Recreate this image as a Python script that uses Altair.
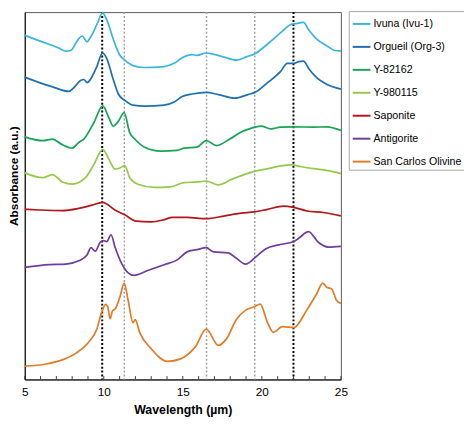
import altair as alt
import pandas as pd

series_names = ["Ivuna (Ivu-1)", "Orgueil (Org-3)", "Y-82162", "Y-980115",
                "Saponite", "Antigorite", "San Carlos Olivine"]
series_colors = ["#38B6E0", "#1F70B0", "#17A455", "#96C94B",
                 "#B3151B", "#6F3D9E", "#E37C28"]

ivuna_x = [5.00, 5.93, 7.18, 7.60, 7.91, 8.32, 8.63, 8.94, 9.15, 9.56, 9.92, 10.19, 10.60, 11.02, 11.33, 11.85, 12.58, 13.82, 14.45, 14.96, 15.59, 15.90, 16.48, 17.04, 17.56, 18.39, 19.01, 19.57, 20.36, 21.19, 21.81, 22.12, 22.64, 22.95, 23.47, 24.10, 24.61, 25.00]
ivuna_y = [356, 350.3, 342.7, 339.7, 340.3, 350.3, 355.3, 349.3, 353.7, 367, 379.3, 372, 352, 335.3, 330.3, 324.7, 322.7, 323.7, 327, 332.7, 336, 335.3, 337.7, 336, 333.7, 330.3, 333.7, 337, 347, 358.7, 367, 368, 369.3, 362, 352, 345.3, 340.3, 339.7]

orgueil_x = [5.00, 5.93, 6.76, 7.80, 8.11, 8.53, 8.74, 8.94, 9.15, 9.56, 9.92, 10.19, 10.60, 10.92, 11.33, 11.85, 12.58, 13.82, 14.45, 14.96, 15.59, 16.48, 17.25, 18.28, 19.12, 19.57, 20.36, 21.19, 21.61, 22.02, 22.33, 22.64, 22.95, 23.37, 24.10, 25.00]
orgueil_y = [312.7, 307, 302.7, 298, 302, 309.3, 310.3, 307, 310.3, 323.7, 337.7, 332, 310.3, 295.3, 288.7, 283.7, 282.7, 283.7, 287, 292.7, 295.3, 297, 294.7, 291, 294.7, 297, 307, 318.7, 327, 327, 328.7, 329.3, 322, 313.7, 305.3, 300.3]

y82162_x = [5.00, 6.14, 6.76, 7.29, 8.01, 8.42, 8.74, 9.36, 9.94, 10.29, 10.60, 10.92, 11.29, 11.64, 11.96, 12.58, 13.61, 14.65, 15.07, 15.90, 16.48, 17.14, 17.97, 18.70, 19.12, 19.94, 20.57, 21.19, 22.02, 23.26, 24.10, 25.00]
y82162_y = [251, 247, 248.7, 243.7, 239.3, 245.3, 248.7, 265.3, 283, 272, 262, 267, 276, 255.3, 248.7, 240.3, 236.3, 237, 239.3, 240.3, 247, 242, 248.7, 256, 258.7, 262, 259.3, 261, 261.3, 261, 261.3, 257.7]

y980115_x = [5.00, 6.14, 6.76, 7.07, 7.38, 8.01, 8.84, 9.36, 9.94, 10.29, 10.71, 11.02, 11.33, 11.64, 12.16, 13.20, 14.23, 15.07, 15.90, 16.48, 17.25, 18.08, 19.53, 20.57, 21.19, 21.92, 22.43, 23.26, 24.10, 25.00]
y980115_y = [213.7, 208.7, 212, 208.7, 204.3, 202, 208.7, 222, 238, 228.7, 217.7, 218.7, 221.3, 208.7, 202, 198.7, 199.3, 203.7, 204.3, 205.3, 201.3, 207, 215.3, 218.7, 221, 222, 220.3, 218, 216.3, 213]

saponite_x = [5.00, 5.93, 7.38, 8.42, 9.25, 9.92, 10.71, 11.33, 12.05, 12.99, 13.82, 14.34, 15.27, 16.48, 17.66, 18.70, 19.53, 20.36, 21.39, 22.02, 22.85, 23.89, 25.00]
saponite_y = [176, 175.3, 174.7, 177, 180.3, 183.3, 175.3, 170.3, 163.7, 163, 165.3, 167.7, 167.7, 166.3, 169.3, 172, 173.3, 176, 179.3, 178, 174.3, 172.7, 169.3]

antigorite_x = [5.00, 6.56, 7.60, 8.42, 8.94, 9.19, 9.46, 9.78, 9.98, 10.19, 10.46, 10.71, 11.12, 11.54, 11.91, 12.78, 13.82, 14.65, 15.27, 15.90, 16.48, 16.94, 17.87, 18.39, 18.97, 19.63, 20.26, 21.08, 22.02, 22.33, 22.95, 23.57, 24.20, 25.00]
antigorite_y = [116, 118.7, 119.3, 122.7, 128.7, 136.3, 132.7, 142, 143.7, 142.7, 149.7, 137, 120.3, 110.3, 107.7, 112.7, 118.7, 123.7, 132, 134.3, 136.3, 132, 131, 125.3, 119.3, 127, 135.3, 139.3, 142.7, 146, 153, 142, 137, 137.7]

olivine_x = [5.00, 6.35, 7.38, 8.22, 9.05, 9.56, 9.88, 10.12, 10.25, 10.40, 10.56, 10.71, 11.02, 11.29, 11.54, 11.85, 11.99, 12.27, 12.99, 14.03, 14.86, 15.27, 15.79, 16.48, 17.25, 17.76, 18.39, 19.01, 19.53, 19.90, 20.36, 20.73, 21.29, 22.02, 22.85, 23.47, 23.85, 24.10, 24.41, 24.72, 25.00]
olivine_y = [13.7, 16, 20.3, 27, 38.7, 52, 70.3, 77.7, 75.3, 62.7, 71.3, 72.7, 85.3, 99.7, 82, 58.7, 62, 48.7, 32, 18.7, 21.3, 25.3, 33.7, 52, 35.3, 42, 62, 72, 75.3, 78, 58.7, 48.7, 54.7, 53.7, 72, 88.7, 99.7, 95.3, 93.7, 82, 78.7]

ref_black = [9.9, 22.0]
ref_gray = [11.3, 16.5, 19.55]
tick_values = list(range(5, 26))
label_values = [5, 10, 15, 20, 25]

xs = [ivuna_x, orgueil_x, y82162_x, y980115_x, saponite_x, antigorite_x, olivine_x]
ys = [ivuna_y, orgueil_y, y82162_y, y980115_y, saponite_y, antigorite_y, olivine_y]
frames = []
for name, xv, yv in zip(series_names, xs, ys):
    frames.append(pd.DataFrame({"Wavelength": xv, "Absorbance": yv, "Sample": name}))
df = pd.concat(frames, ignore_index=True)

xscale = alt.Scale(domain=[5, 25], nice=False, zero=False)
yscale = alt.Scale(domain=[0, 380], nice=False, zero=False)

xaxis = alt.Axis(title="Wavelength (µm)", values=label_values, ticks=False, tickSize=0,
                 grid=False, labelFontSize=12, labelPadding=7.5, labelColor="#000000",
                 labelFont="Liberation Sans", titleFont="Liberation Sans",
                 titleFontSize=12.5, titleFontWeight="bold", titleColor="#000000",
                 titlePadding=6, domainColor="#000000", labelFlush=False)
yaxis = alt.Axis(title="Absorbance (a.u.)", labels=False, ticks=False, tickSize=0,
                 grid=False, titleFont="Liberation Sans", titleFontSize=12,
                 titleFontWeight="bold", titleColor="#000000", titlePadding=4,
                 titleY=166, domainColor="#000000")

base = alt.Chart(df)

black_rules = alt.Chart(pd.DataFrame({"x": ref_black})).mark_rule(
    color="#000000", strokeWidth=2, strokeDash=[2, 2]
).encode(x=alt.X("x:Q", scale=xscale, axis=xaxis))

gray_rules = alt.Chart(pd.DataFrame({"x": ref_gray})).mark_rule(
    color="#A0A0A0", strokeWidth=1.5, strokeDash=[2, 2]
).encode(x=alt.X("x:Q", scale=xscale))

ticks = alt.Chart(pd.DataFrame({"x": tick_values})).mark_rule(
    color="#404040", strokeWidth=1
).encode(
    x=alt.X("x:Q", scale=xscale),
    y=alt.datum(0, scale=yscale),
    y2=alt.datum(3.5),
)

lines = base.mark_line(strokeWidth=1.75, interpolate="monotone").encode(
    x=alt.X("Wavelength:Q", scale=xscale, axis=xaxis),
    y=alt.Y("Absorbance:Q", scale=yscale, axis=yaxis),
    color=alt.Color("Sample:N",
                    scale=alt.Scale(domain=series_names, range=series_colors),
                    sort=series_names,
                    legend=alt.Legend(title=None, orient="none", legendX=329, legendY=-1,
                                      symbolType="stroke", symbolSize=324,
                                      symbolStrokeWidth=2, labelFontSize=10.8,
                                      labelFont="Liberation Sans", labelColor="#000000",
                                      labelOffset=2, rowPadding=8.3, padding=3,
                                      strokeColor="#A6A6A6", fillColor="#FFFFFF")),
    detail="Sample:N",
)

chart = alt.layer(gray_rules, black_rules, ticks, lines).properties(
    width=321, height=373,
    autosize=alt.AutoSizeParams(type="none"),
    padding={"left": 17, "top": 1, "right": 125, "bottom": 40},
).configure_view(stroke="#595959", strokeWidth=1)

chart.save("out.html", embed_options={"renderer": "svg", "actions": False})
